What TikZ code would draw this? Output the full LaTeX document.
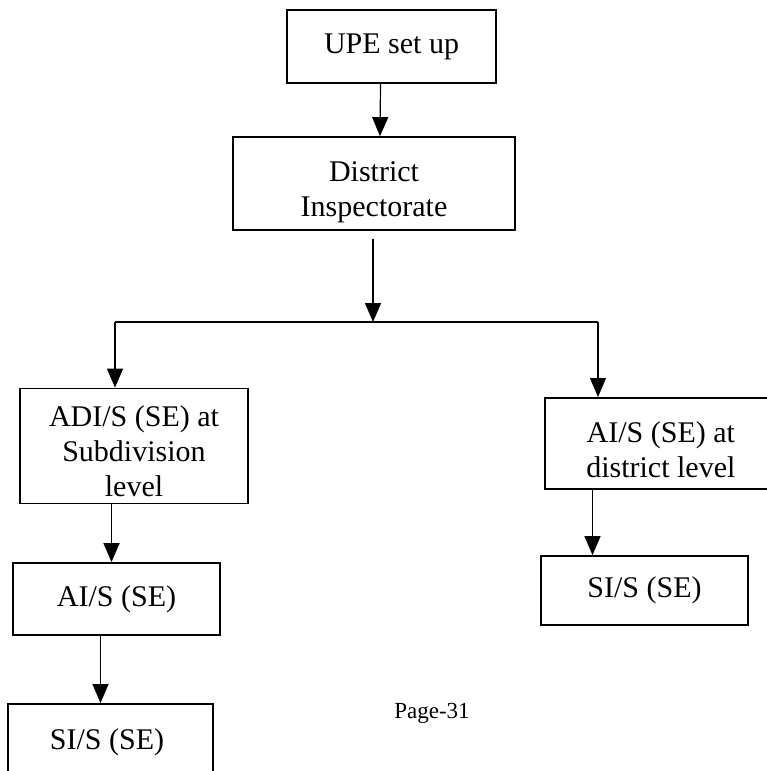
\documentclass[tikz,border=0pt]{standalone}
\usepackage{fontspec}
\setmainfont{Liberation Serif}
\usepackage{tikz}
\usetikzlibrary{positioning, arrows.meta}
\newcommand{\firstline}[1]{\rule{0pt}{#1}}

\begin{document}
\begin{tikzpicture}[
    x=1pt, y=-1pt,
    box/.style={rectangle, draw=black, line width=1.7pt, inner sep=2pt,
                align=center, font=\fontsize{30}{35}\selectfont},
    note/.style={font=\fontsize{23}{26}\selectfont},
    arr/.style={-{Triangle[length=19pt, width=16pt]}, black, line width=1.2pt},
    bar/.style={black, line width=1.2pt},
]
    \useasboundingbox (0,0) rectangle (766,771);

    \node[box, minimum width=209pt, minimum height=73pt] (upe) at (391.5,46.5) {UPE set up};
    \node[box, minimum width=282pt, minimum height=93pt] (dist) at (374,183.5)
        {\firstline{37pt}District\\Inspectorate};

    \node[box, minimum width=228pt, minimum height=115pt] (adi) at (134,446)
        {\firstline{31pt}ADI/S (SE) at\\Subdivision\\level};
    \node[box, minimum width=232pt, minimum height=91pt, anchor=north west] (aidist)
        at (544,397) {\firstline{33pt}AI/S (SE) at\\district level};

    \node[box, minimum width=207pt, minimum height=72pt] (ai) at (116.5,599) {AI/S (SE)};
    \node[box, minimum width=205pt, minimum height=90pt, anchor=north] (sil) at (110.5,703) {};
    \node[font=\fontsize{30}{35}\selectfont] (siltxt) at (107,742) {SI/S (SE)};
    \node[box, minimum width=207pt, minimum height=69pt] (sir) at (644.5,590.5) {SI/S (SE)};

    \node[note] (page) at (432,713) {Page-31};

    % split below the inspectorate
    \coordinate (split) at (373,322);
    \coordinate (bl) at (115,322);
    \coordinate (br) at (598,322);

    \draw[arr] ([xshift=-11pt]upe.south) -- ([xshift=6pt]dist.north);
    \draw[arr] ([yshift=-8pt]dist.south -| split) -- (split);
    \draw[bar] (bl) -- (br);
    \draw[arr] (bl) -- (bl |- adi.north);
    \draw[arr] (br) -- (br |- aidist.north);

    \draw[arr] ([xshift=-5pt]ai.north |- adi.south) -- ([xshift=-5pt]ai.north);
    \draw[arr] ([xshift=-10pt]sil.north |- ai.south) -- ([xshift=-10pt]sil.north);
    \draw[arr] ([xshift=-52pt]sir.north |- aidist.south) -- ([xshift=-52pt]sir.north);
\end{tikzpicture}
\end{document}
